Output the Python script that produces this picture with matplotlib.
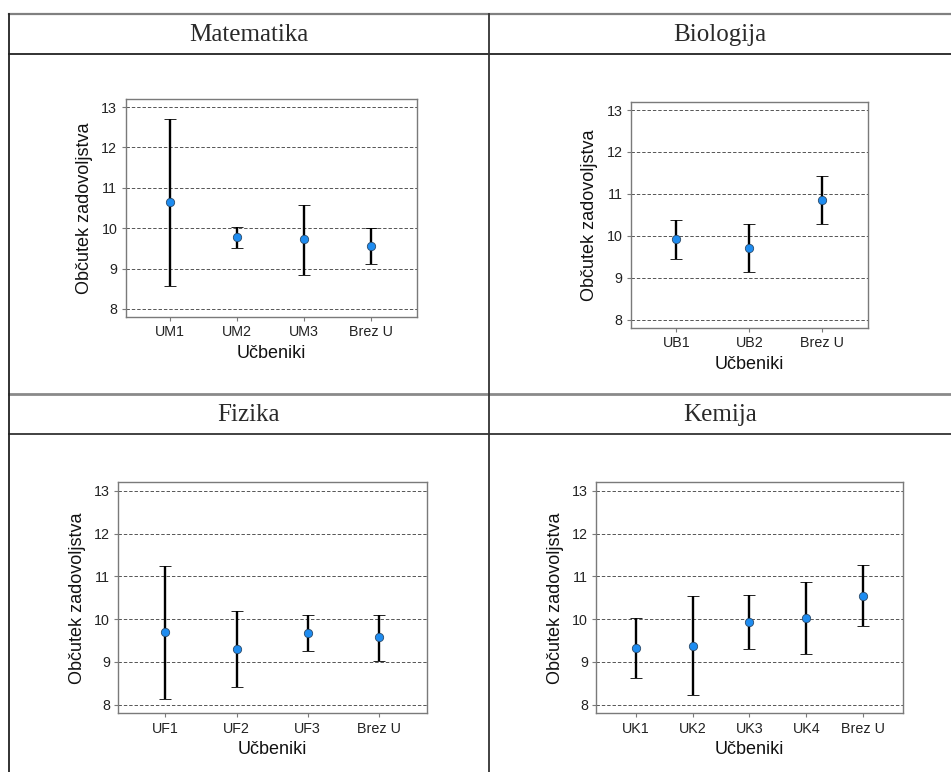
import numpy as np
import matplotlib.pyplot as plt
from matplotlib.lines import Line2D

# values: mean and the ends of each error bar
mat_labels = ['UM1', 'UM2', 'UM3', 'Brez U']
mat_mean = [10.64, 9.79, 9.72, 9.55]
mat_low = [8.57, 9.52, 8.85, 9.12]
mat_high = [12.71, 10.04, 10.58, 10.00]

bio_labels = ['UB1', 'UB2', 'Brez U']
bio_mean = [9.93, 9.71, 10.85]
bio_low = [9.45, 9.13, 10.27]
bio_high = [10.38, 10.29, 11.43]

fiz_labels = ['UF1', 'UF2', 'UF3', 'Brez U']
fiz_mean = [9.70, 9.30, 9.67, 9.58]
fiz_low = [8.14, 8.41, 9.26, 9.03]
fiz_high = [11.24, 10.19, 10.09, 10.10]

kem_labels = ['UK1', 'UK2', 'UK3', 'UK4', 'Brez U']
kem_mean = [9.32, 9.38, 9.93, 10.02, 10.54]
kem_low = [8.63, 8.23, 9.30, 9.19, 9.84]
kem_high = [10.02, 10.54, 10.57, 10.86, 11.27]

titles = ['Matematika', 'Biologija', 'Fizika', 'Kemija']

W, H = 951, 772
fig = plt.figure(figsize=(W / 100, H / 100), dpi=100)
plt.rcParams['font.family'] = ['Liberation Sans', 'DejaVu Sans']


def frac(left, top, right, bottom):
    return [left / W, 1 - bottom / H, (right - left) / W, (bottom - top) / H]


def hline(y, x0, x1, color, lw):
    fig.add_artist(Line2D([x0 / W, x1 / W], [1 - y / H, 1 - y / H],
                          transform=fig.transFigure, color=color, lw=lw))


def vline(x, y0, y1, color, lw):
    fig.add_artist(Line2D([x / W, x / W], [1 - y0 / H, 1 - y1 / H],
                          transform=fig.transFigure, color=color, lw=lw))


# table frame
hline(14, 9, W, '#808080', 1.6)
hline(54, 9, W, '#222222', 1.3)
hline(394, 9, W, '#8a8a8a', 2.0)
hline(434, 9, W, '#333333', 1.3)
vline(9, 14, H, '#222222', 1.3)
vline(488.5, 14, H, '#333333', 1.3)

for cx, cy, t in [(248.5, 35, titles[0]), (720, 35, titles[1]),
                  (248.5, 415, titles[2]), (720, 415, titles[3])]:
    fig.text(cx / W, 1 - cy / H, t, family='Liberation Serif', fontsize=18,
             ha='center', va='center', color='#2a2a2a')


def panel(rect, labels, mean, low, high, xlim):
    ax = fig.add_axes(rect)
    x = np.arange(1, len(labels) + 1)
    mean = np.array(mean)
    err = [mean - np.array(low), np.array(high) - mean]
    ax.errorbar(x, mean, yerr=err, fmt='o', color='black', ecolor='black',
                elinewidth=1.7, capsize=4, capthick=1.7,
                markersize=6, markerfacecolor='#1e8cf0', markeredgecolor='#2a4a6a',
                markeredgewidth=0.6, zorder=3)
    ax.set_xlim(*xlim)
    ax.set_ylim(7.8, 13.2)
    ax.set_yticks([8, 9, 10, 11, 12, 13])
    ax.set_xticks(x)
    ax.set_xticklabels(labels)
    ax.grid(axis='y', color='#555555', linestyle=(0, (3.5, 2)), linewidth=0.7)
    ax.set_axisbelow(True)
    for s in ax.spines.values():
        s.set_color('#7a7a7a')
        s.set_linewidth(1.0)
    ax.tick_params(axis='both', labelsize=10.3, labelcolor='#222222', length=3,
                   width=0.8, pad=3, color='#7a7a7a')
    ax.set_xlabel('Učbeniki', fontsize=13, color='#111111', labelpad=4)
    ax.set_ylabel('Občutek zadovoljstva', fontsize=13, color='#111111', labelpad=6)
    return ax


panel(frac(125.7, 99, 417, 317), mat_labels, mat_mean, mat_low, mat_high, (0.34, 4.68))
panel(frac(631, 101.7, 867.7, 328), bio_labels, bio_mean, bio_low, bio_high, (0.38, 3.62))
panel(frac(118.3, 482.3, 426.7, 713.3), fiz_labels, fiz_mean, fiz_low, fiz_high, (0.34, 4.67))
panel(frac(596.3, 482.3, 902.7, 713.3), kem_labels, kem_mean, kem_low, kem_high, (0.30, 5.70))

fig.savefig('out.png', dpi=100)
